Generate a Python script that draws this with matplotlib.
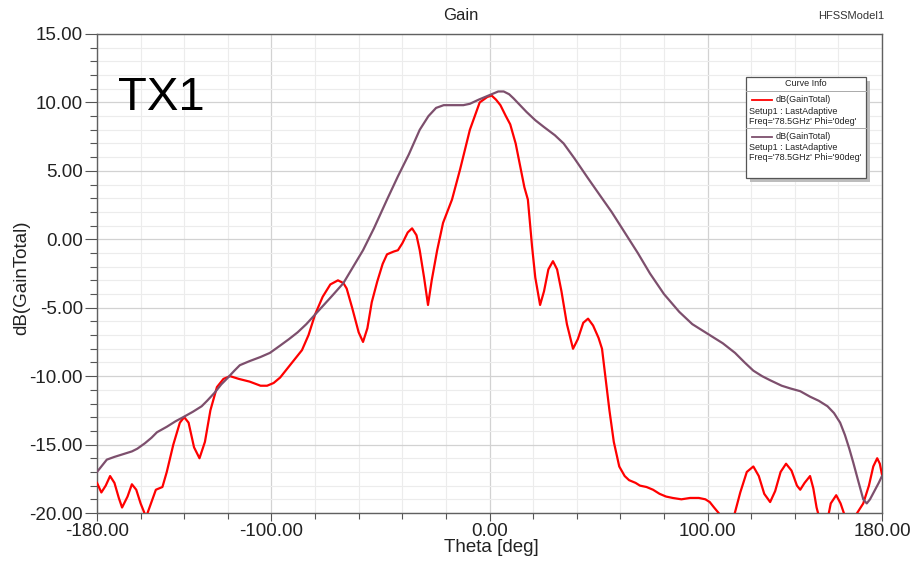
import matplotlib.pyplot as plt
from matplotlib.patches import Rectangle
from matplotlib.lines import Line2D
from matplotlib.ticker import MultipleLocator, FixedLocator

plt.rcParams['font.family'] = ['Liberation Sans', 'DejaVu Sans']

# dB(GainTotal), Phi = 0deg
theta_0 = [-180, -178, -176, -174, -172, -170, -168.5, -166, -164, -162, -160, -157.5, -155, -153,
           -150, -148, -145, -142, -140, -138, -135.5, -133, -130.5, -128, -125, -122, -119, -115,
           -110, -105, -102, -99, -96, -92, -89, -86, -83, -80, -76.5, -73, -69.5, -67, -65.5, -63,
           -60, -58, -56, -54, -51.5, -49, -47, -44, -42, -40, -37.5, -35.5, -33.5, -32, -30, -28.2,
           -26.5, -24, -21.3, -17.2, -13.5, -9, -4.5, -1, 1, 3, 5, 7.5, 9.5, 12, 14, 16, 17.6, 19.5,
           21, 23.2, 25, 27, 29.1, 31, 33, 35.5, 38.3, 40.5, 43, 45.2, 47.5, 50, 51.6, 53.5, 55, 57,
           59.5, 62, 64, 67, 69, 72, 75, 78, 81, 84, 88, 92, 96, 99, 101, 103, 105.6, 108, 110.5,
           112.5, 115, 118, 121, 123.5, 126, 128.7, 131, 133.5, 136, 138.5, 141, 142.5, 144.5, 147,
           148.5, 150, 151.5, 153, 155, 156.5, 159, 161, 162.5, 164, 166, 168.6, 171.4, 174, 176,
           177.8, 179, 180]
gain_0 = [-17.8, -18.5, -18.0, -17.3, -17.8, -18.9, -19.6, -18.8, -17.9, -18.3, -19.3, -20.3, -19.2, -18.3,
          -18.1, -17.0, -15.0, -13.4, -13.0, -13.4, -15.2, -16.0, -14.8, -12.5, -10.8, -10.2, -10.0, -10.2,
          -10.4, -10.7, -10.7, -10.5, -10.1, -9.3, -8.7, -8.1, -7.0, -5.5, -4.2, -3.3, -3.0, -3.2, -3.6, -5.0,
          -6.8, -7.5, -6.5, -4.6, -3.1, -1.8, -1.1, -0.9, -0.8, -0.3, 0.5, 0.8, 0.3, -0.8, -2.8, -4.8,
          -3.0, -0.8, 1.2, 2.9, 5.1, 8.0, 10.0, 10.4, 10.5, 10.2, 9.8, 9.0, 8.4, 7.0, 5.4, 3.8, 2.9, -0.5,
          -2.8, -4.8, -3.8, -2.2, -1.6, -2.2, -3.8, -6.2, -8.0, -7.3, -6.1, -5.8, -6.3, -7.2, -8.0, -10.5, -12.5, -14.8,
          -16.6, -17.3, -17.6, -17.8, -18.0, -18.1, -18.3, -18.6, -18.8, -18.9, -19.0, -18.9, -18.9, -19.0, -19.2, -19.6, -20.1, -21.0, -21.2,
          -20.0, -18.5, -17.0, -16.6, -17.3, -18.6, -19.2, -18.4, -17.0, -16.4, -16.9, -18.0, -18.3, -17.8, -17.3,
          -18.2, -19.6, -20.5, -21.0, -20.5, -19.3, -18.7, -19.3, -20.0, -20.8, -21.0, -20.0, -19.3, -18.0, -16.6,
          -16.0, -16.4, -17.2]

# dB(GainTotal), Phi = 90deg
theta_90 = [-180, -177, -175.5, -172, -168, -164, -161.5, -158, -155, -152.5, -148, -144, -140.5, -136,
            -132, -129.5, -126, -123, -120.5, -117, -114.5, -110, -105, -100.7, -96.3, -92, -88, -84,
            -80, -76, -72, -67, -62.5, -58, -53, -47, -42, -37, -32, -28, -24.5, -21, -16, -12, -9,
            -5, -2, 1, 4, 6.5, 9, 11, 14, 17, 21, 25, 30, 34, 39, 45, 50.7, 56, 62, 68, 73.6, 80, 87,
            93, 101, 107, 112.6, 117, 121, 125, 128.7, 134, 138, 142.5, 147, 151, 155, 158, 160.8,
            163, 165, 166.8, 169, 171.4, 173, 174.5, 176.5, 178.5, 180]
gain_90 = [-17.0, -16.4, -16.1, -15.9, -15.7, -15.5, -15.3, -14.9, -14.5, -14.1, -13.7, -13.3, -13.0, -12.6,
           -12.2, -11.8, -11.2, -10.6, -10.2, -9.6, -9.2, -8.9, -8.6, -8.3, -7.8, -7.3, -6.8, -6.2,
           -5.5, -4.8, -4.1, -3.2, -2.0, -0.8, 0.8, 2.9, 4.6, 6.2, 8.0, 9.0, 9.6, 9.8, 9.8, 9.8, 9.9,
           10.2, 10.4, 10.6, 10.8, 10.8, 10.6, 10.3, 9.8, 9.3, 8.7, 8.2, 7.6, 7.0, 5.9, 4.5, 3.2, 2.0, 0.5, -1.0, -2.5, -4.0, -5.3,
           -6.2, -7.0, -7.6, -8.3, -9.0, -9.6, -10.0, -10.3, -10.7, -10.9, -11.1, -11.5, -11.8, -12.2, -12.7, -13.4,
           -14.3, -15.3, -16.3, -17.6, -19.0, -19.3, -19.0, -18.4, -17.8, -17.3]

xticks = [-180, -100, 0, 100, 180]
yticks = [15, 10, 5, 0, -5, -10, -15, -20]

RED = '#ff0000'
PURPLE = '#7d4f6d'

W, H = 911, 562
fig = plt.figure(figsize=(W / 100, H / 100), dpi=100)
ax = fig.add_axes([97 / W, 1 - 513 / H, 785 / W, 479 / H])


def fx(px):
    return px / W


def fy(py):
    return 1 - py / H


ax.plot(theta_0, gain_0, color=RED, lw=1.6, zorder=3, solid_joinstyle='round')
ax.plot(theta_90, gain_90, color=PURPLE, lw=1.6, zorder=3, solid_joinstyle='round')

ax.set_xlim(-180, 180)
ax.set_ylim(-20, 15)
ax.xaxis.set_major_locator(FixedLocator(xticks))
ax.xaxis.set_minor_locator(MultipleLocator(20))
ax.yaxis.set_major_locator(FixedLocator(yticks))
ax.yaxis.set_minor_locator(MultipleLocator(1))
ax.set_xticklabels([f'{t:.2f}' for t in xticks])
ax.set_yticklabels([f'{t:.2f}' for t in yticks])

ax.grid(which='minor', color='#ececec', lw=0.8)
ax.grid(which='major', color='#d2d2d2', lw=0.9)
ax.set_axisbelow(True)

ax.tick_params(which='both', direction='out', width=0.8, color='#555555',
               labelsize=13.5, labelcolor='#222222')
ax.tick_params(axis='y', which='major', length=9, pad=1)
ax.tick_params(axis='y', which='minor', length=5)
ax.tick_params(axis='x', which='major', length=6, pad=1)
ax.tick_params(axis='x', which='minor', length=4)
for s in ax.spines.values():
    s.set_color('#606060')
    s.set_linewidth(1.0)

ax.set_xlabel('Theta [deg]', fontsize=13.5, color='#222222')
ax.set_ylabel('dB(GainTotal)', fontsize=13.5, color='#222222')
ax.xaxis.set_label_coords(0.5025, (513 - 548) / 479)
ax.xaxis.label.set_va('center')
ax.yaxis.set_label_coords((22 - 97) / 785, (513 - 278) / 479)
ax.yaxis.label.set_va('center')

fig.text(fx(461), fy(16), 'Gain', fontsize=12, ha='center', va='center', color='#222222')
fig.text(fx(818), fy(16), 'HFSSModel1', fontsize=8, ha='left', va='center', color='#333333')
fig.text(fx(118), fy(110), 'TX1', fontsize=34, ha='left', va='baseline', color='black')

# curve info box
bx0, by0, bx1, by1 = 746, 77, 866, 178
fig.patches.append(Rectangle((fx(bx0 + 4), fy(by1 + 4)), fx(bx1 - bx0), (by1 - by0) / H,
                             transform=fig.transFigure, facecolor='#bdbdbd', edgecolor='none', zorder=5))
fig.patches.append(Rectangle((fx(bx0), fy(by1)), fx(bx1 - bx0), (by1 - by0) / H,
                             transform=fig.transFigure, facecolor='white', edgecolor='#555555',
                             lw=0.9, zorder=6))
for yy in (91, 128):
    fig.lines.append(Line2D([fx(bx0), fx(bx1)], [fy(yy), fy(yy)], transform=fig.transFigure,
                            color='#aaaaaa', lw=0.7, zorder=7))
fig.text(fx(806), fy(84), 'Curve Info', fontsize=6.5, ha='center', va='center', color='#222222', zorder=8)

entries = [(RED, "Freq='78.5GHz' Phi='0deg'", 100), (PURPLE, "Freq='78.5GHz' Phi='90deg'", 137)]
for col, freq, y0 in entries:
    fig.lines.append(Line2D([fx(752), fx(772)], [fy(y0), fy(y0)], transform=fig.transFigure,
                            color=col, lw=1.3, zorder=8))
    fig.text(fx(776), fy(y0), 'dB(GainTotal)', fontsize=6.5, ha='left', va='center', color='#222222', zorder=8)
    fig.text(fx(749), fy(y0 + 11), 'Setup1 : LastAdaptive', fontsize=6.5, ha='left', va='center',
             color='#222222', zorder=8)
    fig.text(fx(749), fy(y0 + 21), freq, fontsize=6.5, ha='left', va='center', color='#222222', zorder=8)

fig.savefig('out.png', dpi=100)
